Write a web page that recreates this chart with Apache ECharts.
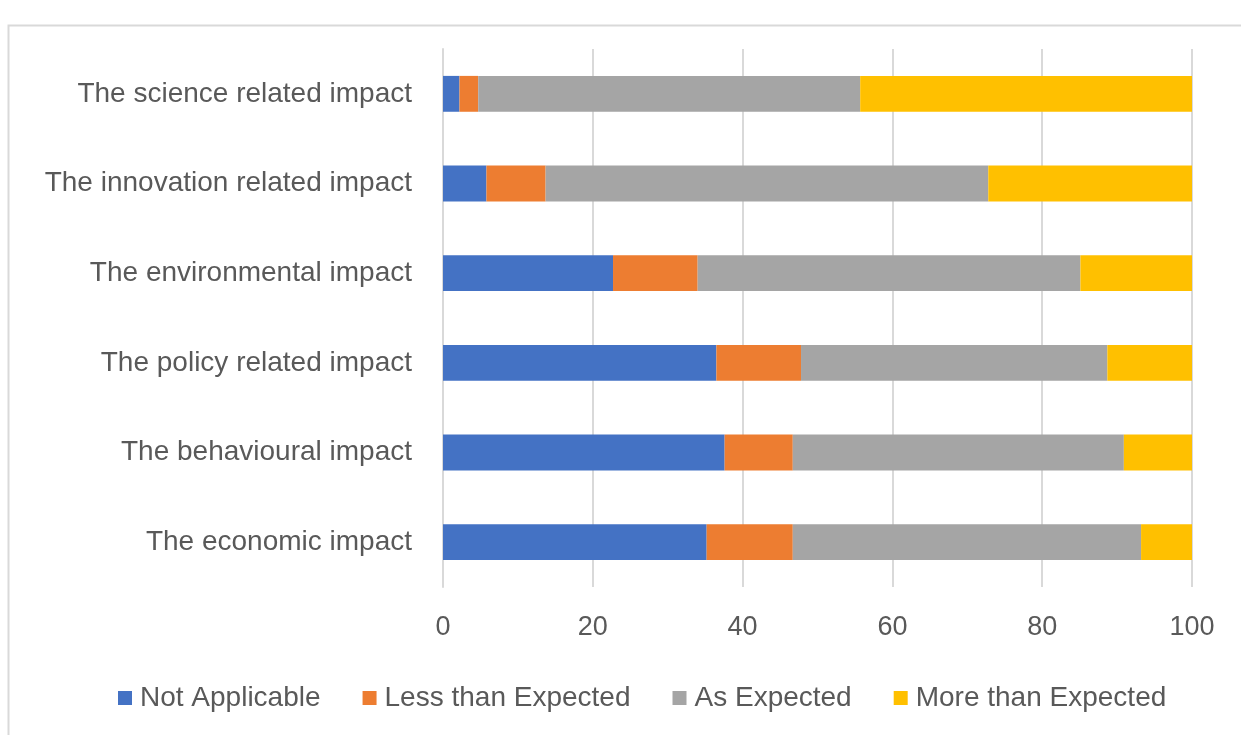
<!DOCTYPE html>
<html>
<head>
<meta charset="utf-8">
<script src="https://cdn.jsdelivr.net/npm/echarts@6/dist/echarts.min.js"></script>
<style>
  html, body { margin: 0; padding: 0; background: #fff; }
  #main { width: 1241px; height: 735px; }
</style>
</head>
<body>
<div id="main"></div>
<script>
var categories = ['The economic impact', 'The behavioural impact', 'The policy related impact',
    'The environmental impact', 'The innovation related impact', 'The science related impact'];
var notApplicable = [35.2, 37.6, 36.5, 22.7, 5.8, 2.2];
var lessThan = [11.5, 9.1, 11.3, 11.3, 7.9, 2.5];
var asExpected = [46.5, 44.2, 40.9, 51.1, 59.1, 51.0];
var moreThan = [6.8, 9.1, 11.3, 14.9, 27.2, 44.3];

var seriesNames = ['Not Applicable', 'Less than Expected', 'As Expected', 'More than Expected'];
var seriesColors = ['#4472c4', '#ed7d31', '#a5a5a5', '#ffc000'];
var seriesData = [notApplicable, lessThan, asExpected, moreThan];

var chart = echarts.init(document.getElementById('main'));

var series = seriesNames.map(function (name, i) {
    return {
        name: name,
        type: 'bar',
        stack: 'total',
        barCategoryGap: '60%',
        itemStyle: { color: seriesColors[i] },
        emphasis: { disabled: true },
        data: seriesData[i]
    };
});

var option = {
    backgroundColor: '#fff',
    animation: false,
    graphic: [{
        type: 'rect',
        shape: { x: 8.5, y: 25.5, width: 1240, height: 720 },
        style: { fill: 'none', stroke: '#d9d9d9', lineWidth: 2 }
    }],
    legend: {
        data: seriesNames,
        top: 679,
        left: 113,
        itemWidth: 14,
        itemHeight: 14,
        itemGap: 42,
        icon: 'rect',
        textStyle: { color: '#595959', fontSize: 28, fontFamily: 'Liberation Sans', padding: [0, 0, 0, 3] }
    },
    grid: {
        left: 443,
        right: 49,
        top: 49,
        bottom: 148
    },
    xAxis: {
        type: 'value',
        min: 0,
        max: 100,
        interval: 20,
        axisLine: { show: false },
        axisTick: { show: false },
        axisLabel: { color: '#595959', fontSize: 27, margin: 27, fontFamily: 'Liberation Sans' },
        splitLine: { lineStyle: { color: '#d9d9d9', width: 2 } }
    },
    yAxis: {
        type: 'category',
        data: categories,
        axisLine: { show: true, lineStyle: { color: '#d9d9d9', width: 2 } },
        axisTick: { show: false },
        axisLabel: { color: '#595959', fontSize: 28, margin: 31, fontFamily: 'Liberation Sans' }
    },
    series: series
};

chart.setOption(option);
</script>
</body>
</html>
